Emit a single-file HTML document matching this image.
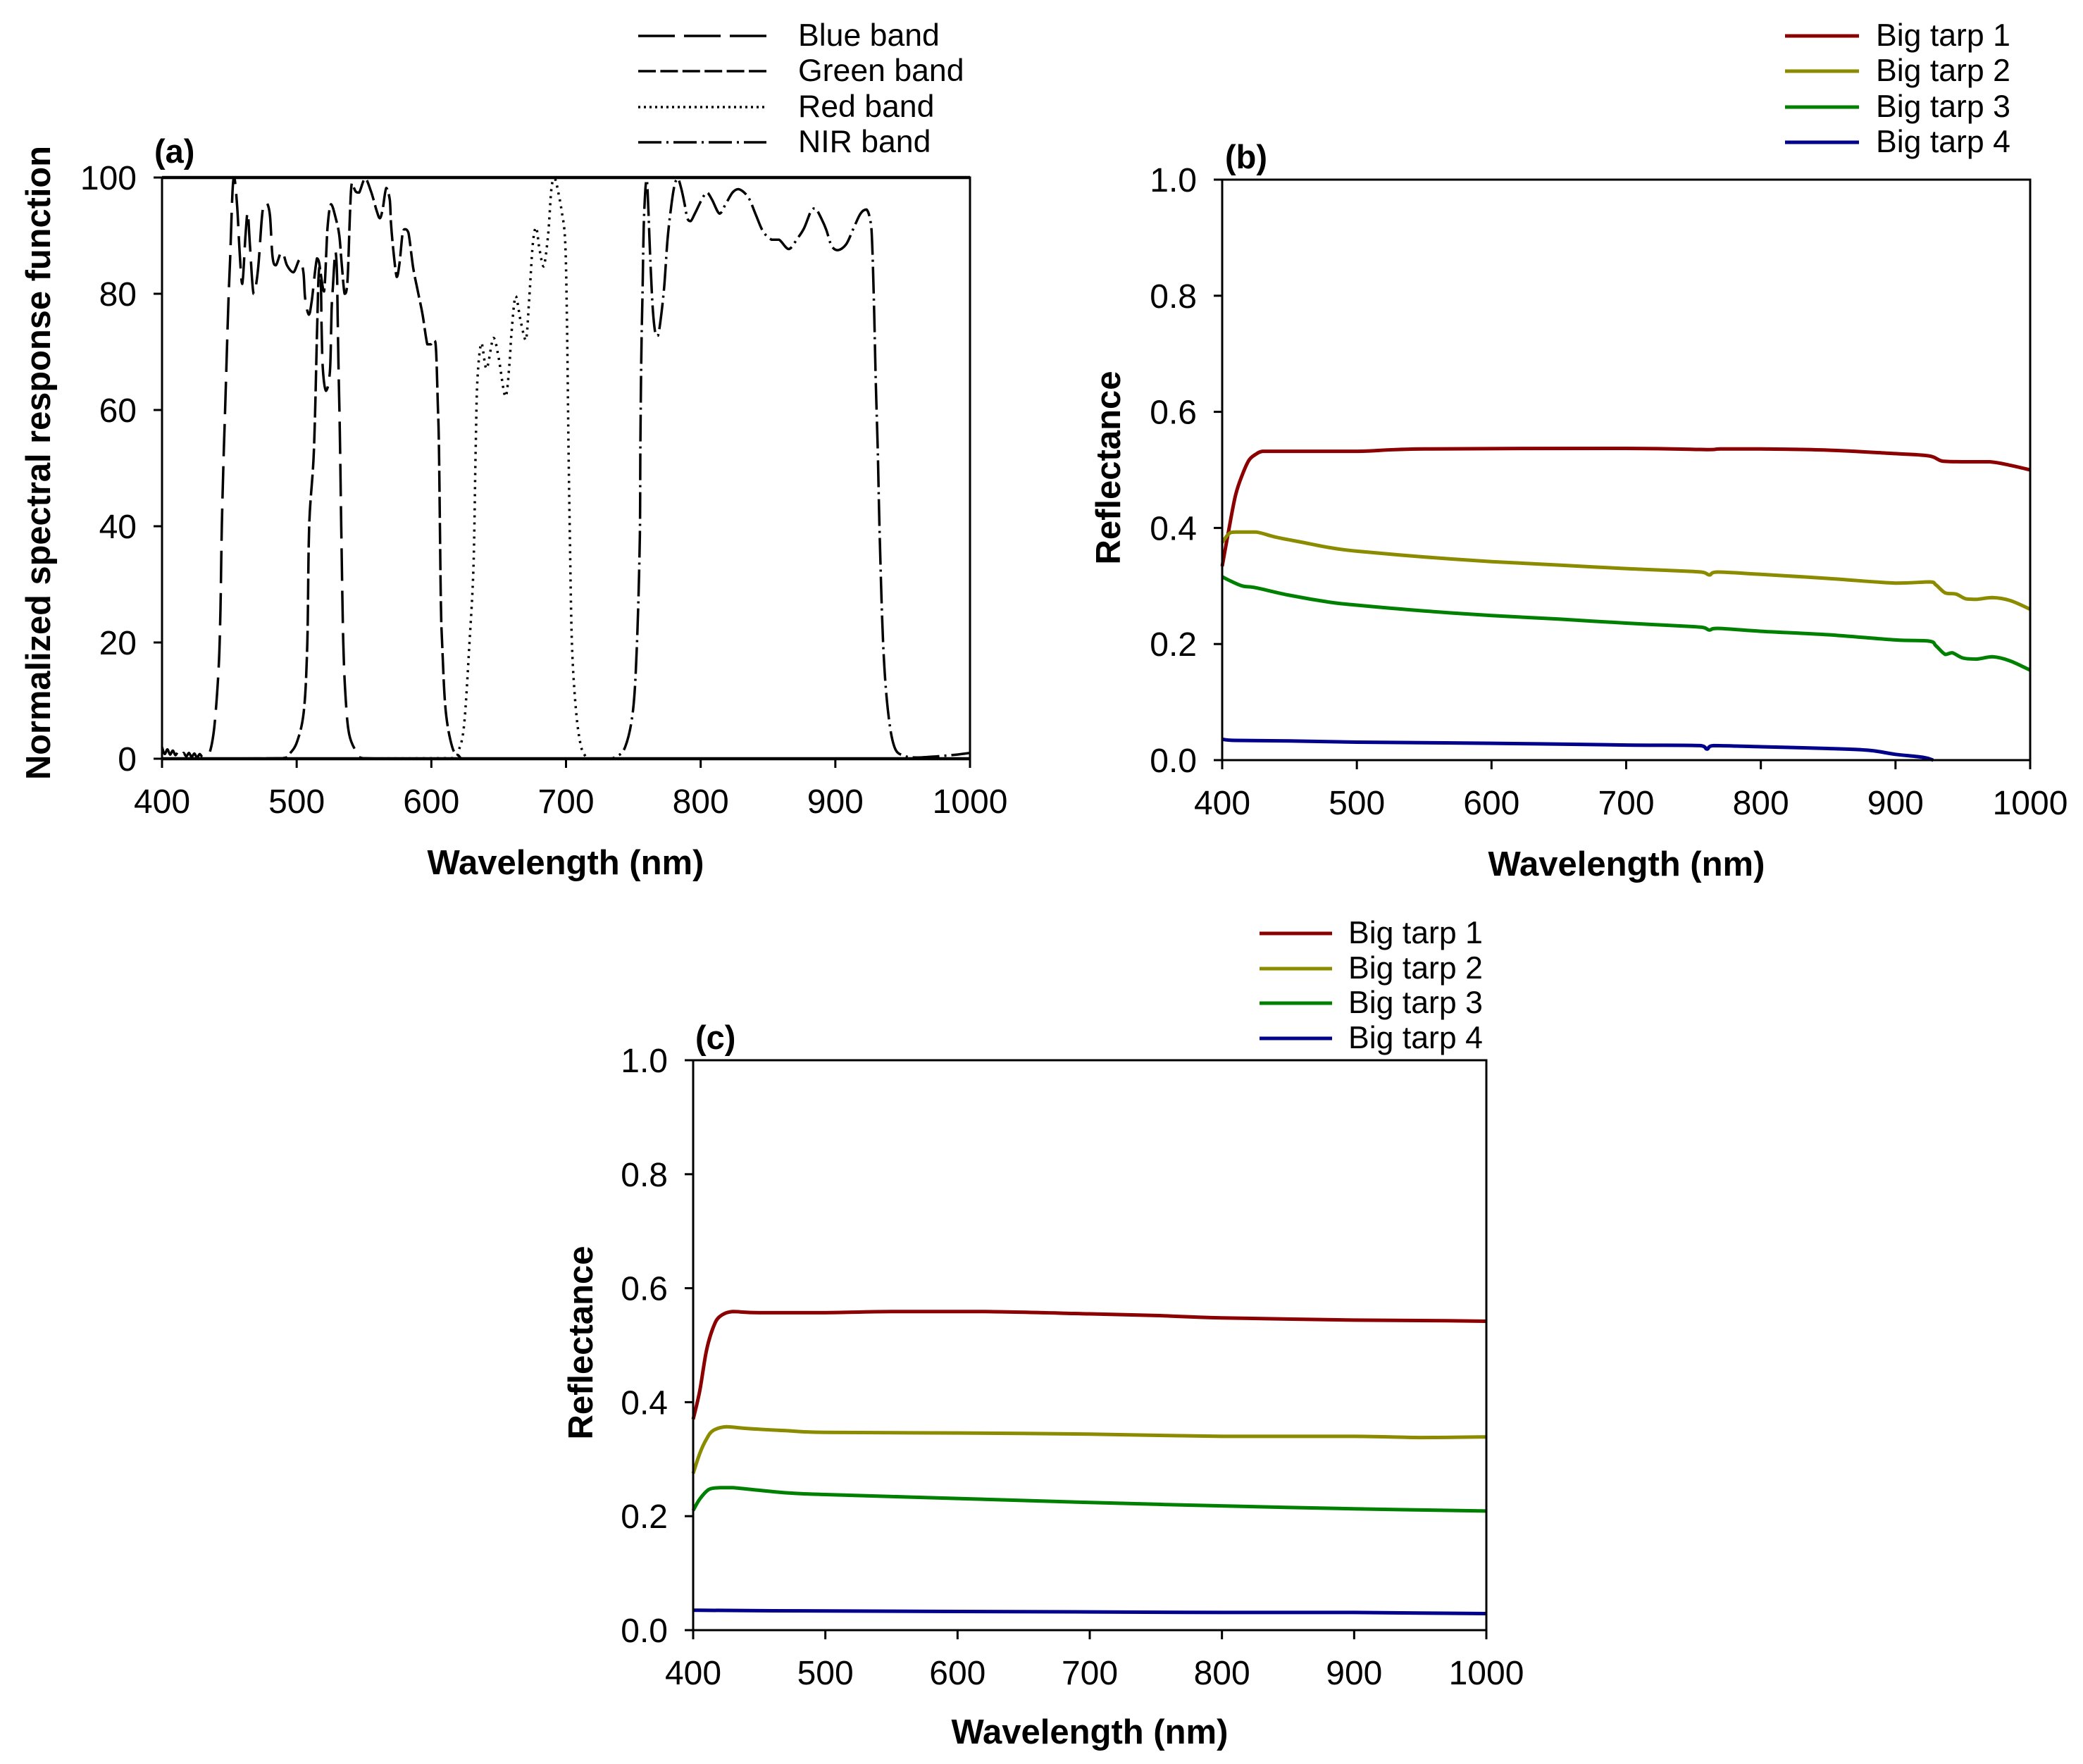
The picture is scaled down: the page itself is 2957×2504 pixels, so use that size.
<!DOCTYPE html>
<html lang="en">
<head>
<meta charset="utf-8">
<title>Spectral response and tarp reflectance</title>
<style>
html,body{margin:0;padding:0;background:#fff}
svg{display:block}
text{font-family:"Liberation Sans",Arial,sans-serif;fill:#000}
</style>
</head>
<body>
<svg id="figure" xmlns="http://www.w3.org/2000/svg" width="2957" height="2504" viewBox="0 0 2957 2504"></svg>
<script>
// ---- Shared tick labels ----
const xTickLabels = [400, 500, 600, 700, 800, 900, 1000];
const yTickLabelsA = [0, 20, 40, 60, 80, 100];
const yTickLabelsR = ["0.0", "0.2", "0.4", "0.6", "0.8", "1.0"];

// ---- Panel (a): spectral response functions ----
const blueWl = [400,402,404,406,408,410,412,414,416,418,420,422,424,426,428,430,432,435.3,438.8,442,443.4,444.4,445.9,447,449.2,450.6,452.3,453.7,455.8,457.5,459.6,461.9,463.6,465.4,468,471.2,474.1,475.8,478,480.2,482,484.5,489,492.8,497.6,502.3,505,506.3,509,511.2,515.1,517.7,518.5,519.4,521.7,524.7,525.9,526.9,528.7,529.9,530.4,531.1,532,533.1,534.6,536.5,539,544,549,600,800,1000];
const blueVal = [2,0.8,1.6,0.7,1.4,0.6,1.2,0.5,1,0.4,1,0.3,0.9,0.2,0.8,0.3,0.6,1,5.4,15.4,25.8,40,53,61,78,86,97.4,100,95,87.8,81.7,89.7,94,88,80,84,93,95.4,95.6,93.4,86.5,84.9,87.3,84.9,83.7,85.9,83.7,79.2,76.4,78.8,86.1,83.3,74.4,67.1,63.3,66.7,77.2,81.2,87.3,83.7,76.4,67.1,57,40,20,10,4.2,1.3,0.1,0,0,0];
const greenWl = [400,489.6,494.5,500.4,505.4,507.9,509.3,512.8,515.1,516.8,520.3,522.9,525.5,529,531.6,533.4,535.6,537.7,539.5,540.9,543.8,546.4,550.8,555.2,559.5,561.8,563.9,566.5,569.1,570,571.7,574.3,576.4,578.7,580.4,583,586.5,590,593.5,597,599.6,602.2,603.5,604.8,605.7,607,608,610.6,615.5,620.4,624.4,800,1000];
const greenVal = [0,0.1,0.8,3,8.4,20,40,53,73.2,84.5,80.4,91.3,95.4,93,90.1,85.3,80,82.1,93.4,99,97.6,97.4,99.8,97.6,94.2,93,94.6,98.2,96.2,92.2,87.7,82.9,85.3,90.5,91.1,90.5,84.5,80.4,76.4,71.3,71.3,72,70.3,61,53,28,20,8.4,2,0.5,0,0,0];
const redWl = [400,615.5,620.4,624.4,628.3,631.3,632.9,634.2,637.2,641,646.1,649.9,655,658,659.5,662.6,666.4,670.2,672.7,675.3,677.8,680.3,683.4,686.7,689.2,691.7,694.3,696.8,699.3,700.6,701.9,702.9,704.4,707.4,710.8,714.3,719.2,1000];
const redVal = [0,0.1,1.5,6,19.8,33.2,53,65.1,71.5,67.1,72.4,69.1,62.3,67.9,73.2,79.6,75.2,72,79.2,88.5,91.4,87.7,84.7,90.1,98.2,99.8,97.4,94.2,89.3,77.2,53,38,19.8,8.4,2.5,0.5,0,0];
const nirWl = [400,729,736.5,743.9,749.8,752.8,754.8,755.2,755.9,756.9,757.7,758.9,760,761,762.7,764.5,766.5,768.3,770.3,772.9,775.4,777.9,780.5,783,785.5,788.1,790.1,792.6,795.7,800.8,804.6,808.4,814,818.5,823.6,827.9,832.4,836.3,841.3,846.4,852.7,858.3,865.4,871.8,876.8,881.9,885.2,889.5,893.3,897.1,901.7,908,913.6,918.7,923.2,926.3,927.5,928.8,930,931.5,933,935.5,939,943.9,951.3,961,975,990,1000];
const nirVal = [0,0,0.3,2,8.4,20.3,38,53,69.1,81.2,91.4,97.8,99.6,95.4,85.3,77.2,73,72.8,75.6,81.2,89.3,94.6,98.6,99.8,98.2,95.4,93,92.5,93.8,96.2,97.4,96.2,93.8,95.4,97.4,98,97.4,96.2,93.4,90.7,89.3,89.3,87.7,89.5,91.3,94.2,94.7,93,91,88.3,87.5,88.5,91.3,93.8,94.5,92.2,87.7,77.2,65.1,53,38,19.8,8.4,2,0.5,0.2,0.4,0.7,1];

// ---- Panel (b): reflectance ----
const b1Wl = [400,405,410,415,420,425,430,440,500,550,700,760,770,800,850,900,925,935,950,970,985,1000];
const b1Val = [0.334,0.398,0.457,0.492,0.517,0.527,0.532,0.532,0.532,0.536,0.537,0.535,0.536,0.536,0.534,0.528,0.524,0.515,0.514,0.514,0.508,0.5];
const b2Wl = [400,405,410,425,440,460,480,500,550,600,650,700,750,758,762,768,800,850,900,925,930,937,945,952,960,972,985,1000];
const b2Val = [0.375,0.39,0.393,0.393,0.384,0.375,0.366,0.36,0.35,0.342,0.336,0.33,0.325,0.323,0.319,0.324,0.32,0.313,0.305,0.307,0.302,0.288,0.286,0.278,0.277,0.28,0.275,0.26];
const b3Wl = [400,405,415,425,450,480,500,550,600,650,700,750,758,762,768,800,850,900,925,930,937,942,950,960,972,985,1000];
const b3Val = [0.316,0.31,0.3,0.297,0.284,0.272,0.267,0.257,0.249,0.243,0.236,0.23,0.228,0.224,0.227,0.222,0.216,0.207,0.205,0.197,0.182,0.185,0.176,0.174,0.178,0.171,0.155];
const b4Wl = [400,410,450,500,600,700,755,760,765,800,850,880,900,920,928];
const b4Val = [0.036,0.034,0.033,0.031,0.029,0.026,0.025,0.019,0.025,0.023,0.02,0.017,0.01,0.005,0];

// ---- Panel (c): reflectance ----
const c1Wl = [400,405,410,415,420,430,450,500,550,620,700,750,800,900,970,1000];
const c1Val = [0.37,0.42,0.49,0.53,0.55,0.559,0.557,0.557,0.559,0.559,0.555,0.552,0.548,0.544,0.543,0.542];
const c2Wl = [400,405,410,415,425,440,470,500,600,700,800,900,950,1000];
const c2Val = [0.275,0.31,0.335,0.35,0.357,0.354,0.35,0.347,0.346,0.344,0.34,0.34,0.338,0.339];
const c3Wl = [400,405,412,420,430,470,500,600,700,800,900,1000];
const c3Val = [0.21,0.23,0.247,0.25,0.25,0.241,0.238,0.231,0.224,0.218,0.213,0.209];
const c4Wl = [400,460,700,800,900,950,1000];
const c4Val = [0.035,0.034,0.032,0.031,0.031,0.03,0.029];

const bandLabels = ["Blue band", "Green band", "Red band", "NIR band"];
const tarpLabels = ["Big tarp 1", "Big tarp 2", "Big tarp 3", "Big tarp 4"];

const NS = "http://www.w3.org/2000/svg";
const svg = document.getElementById("figure");

function make(tag, parent, attrs, txt) {
  const el = document.createElementNS(NS, tag);
  for (const k in attrs) el.setAttribute(k, attrs[k]);
  if (txt !== undefined) el.textContent = txt;
  parent.appendChild(el);
  return el;
}

// Smooth path through points; control points are clamped so curves never overshoot.
function smoothPath(pts) {
  const clamp = (v, a, b) => Math.max(Math.min(a, b), Math.min(Math.max(a, b), v));
  let d = "M" + pts[0][0].toFixed(1) + " " + pts[0][1].toFixed(1);
  for (let i = 0; i < pts.length - 1; i++) {
    const p0 = pts[Math.max(i - 1, 0)], p1 = pts[i], p2 = pts[i + 1], p3 = pts[Math.min(i + 2, pts.length - 1)];
    const c1x = clamp(p1[0] + (p2[0] - p0[0]) / 6, p1[0], p2[0]);
    const c1y = clamp(p1[1] + (p2[1] - p0[1]) / 6, p1[1], p2[1]);
    const c2x = clamp(p2[0] - (p3[0] - p1[0]) / 6, p1[0], p2[0]);
    const c2y = clamp(p2[1] - (p3[1] - p1[1]) / 6, p1[1], p2[1]);
    d += "C" + c1x.toFixed(1) + " " + c1y.toFixed(1) + " " + c2x.toFixed(1) + " " + c2y.toFixed(1) + " " + p2[0].toFixed(1) + " " + p2[1].toFixed(1);
  }
  return d;
}

function drawPanel(p) {
  const g = make("g", svg, {});
  
  
  const sx = v => p.left + (v - 400) / 600 * (p.right - p.left);
  const sy = v => p.bottom - v / p.yMax * (p.bottom - p.top);

  // series
  p.series.forEach(s => {
    const pts = s.wl.map((w, i) => [sx(w), sy(s.val[i])]);
    const line = make("path", g, {d: smoothPath(pts), fill: "none", stroke: s.color, "stroke-width": p.lineWidth, "stroke-linejoin": "round", "stroke-dasharray": s.dash || "none"});
    
    
  });

  // frame
  const frame = make("rect", g, {x: p.left, y: p.top, width: p.right - p.left, height: p.bottom - p.top, fill: "none", stroke: "#000", "stroke-width": 3});
  
  
  if (p.heavyEdges) {
    const topEdge = make("line", g, {x1: p.left, x2: p.right, y1: p.top, y2: p.top, stroke: "#000", "stroke-width": 4.5});
    
    
    const bottomEdge = make("line", g, {x1: p.left, x2: p.right, y1: p.bottom, y2: p.bottom, stroke: "#000", "stroke-width": 4.5});
    
    
  }

  // x ticks
  xTickLabels.forEach(t => {
    const tick = make("line", g, {x1: sx(t), x2: sx(t), y1: p.bottom, y2: p.bottom + 13, stroke: "#000", "stroke-width": 3});
    
    
    const lab = make("text", g, {x: sx(t), y: p.bottom + 77, "font-size": 48, "text-anchor": "middle"}, String(t));
    
    
  });

  // y ticks
  p.yLabels.forEach(t => {
    const v = parseFloat(t);
    const tick = make("line", g, {x1: p.left - 12, x2: p.left, y1: sy(v), y2: sy(v), stroke: "#000", "stroke-width": 3});
    
    
    const lab = make("text", g, {x: p.yLabelX, y: sy(v) + 17, "font-size": 48, "text-anchor": "end"}, String(t));
    
    
  });

  // titles
  const xt = make("text", g, {x: p.xTitleX, y: p.xTitleY, "font-size": 49, "font-weight": "bold", "text-anchor": "middle"}, "Wavelength (nm)");
  
  
  const ytAttrs = {transform: "translate(" + p.yTitleX + "," + p.yTitleY + ") rotate(-90)", "font-size": 49, "font-weight": "bold", "text-anchor": "middle"};
  if (p.yTitleLen) { ytAttrs.textLength = p.yTitleLen; ytAttrs.lengthAdjust = "spacingAndGlyphs"; }
  const yt = make("text", g, ytAttrs, p.yTitle);
  
  

  // panel letter
  const letter = make("text", g, {x: p.letterX, y: p.letterY, "font-size": 47, "font-weight": "bold"}, "(" + p.id + ")");
  
  

  // legend
  const lg = make("g", g, {});
  
  
  p.series.forEach((s, i) => {
    const y = p.legendY[i];
    const key = make("line", lg, {x1: p.legendX1, x2: p.legendX2, y1: y, y2: y, stroke: s.color, "stroke-width": p.lineWidth, "stroke-dasharray": s.legendDash || "none"});
    
    
    const lab = make("text", lg, {x: p.legendTextX, y: y + 14, "font-size": 44.6}, p.labels[i]);
    
    
  });
}

drawPanel({
  id: "a", left: 230, right: 1377, top: 252, bottom: 1077, yMax: 100, yLabels: yTickLabelsA, yLabelX: 194, heavyEdges: true,
  xTitleX: 803, xTitleY: 1241, yTitle: "Normalized spectral response function", yTitleX: 71, yTitleY: 657, yTitleLen: 900,
  letterX: 219, letterY: 231, lineWidth: 3.5, legendX1: 906, legendX2: 1088, legendY: [51, 101, 152, 202], legendTextX: 1133, labels: bandLabels,
  series: [
    {name: "blue-band", wl: blueWl, val: blueVal, color: "#000", dash: "46 14", legendDash: "52 13"},
    {name: "green-band", wl: greenWl, val: greenVal, color: "#000", dash: "30 7", legendDash: "25 6.4"},
    {name: "red-band", wl: redWl, val: redVal, color: "#000", dash: "3 7", legendDash: "3 5"},
    {name: "nir-band", wl: nirWl, val: nirVal, color: "#000", dash: "38 7 3 7", legendDash: "33 7 3 7"}
  ]
});

const tarpColors = ["#8b0000", "#8b8b00", "#008000", "#00008b"];

drawPanel({
  id: "b", left: 1735, right: 2882, top: 255, bottom: 1079, yMax: 1, yLabels: yTickLabelsR, yLabelX: 1699,
  xTitleX: 2309, xTitleY: 1243, yTitle: "Reflectance", yTitleX: 1590, yTitleY: 664,
  letterX: 1739, letterY: 239, lineWidth: 5, legendX1: 2534, legendX2: 2639, legendY: [51, 101, 152, 202], legendTextX: 2663, labels: tarpLabels,
  series: [
    {name: "big-tarp-1", wl: b1Wl, val: b1Val, color: tarpColors[0]},
    {name: "big-tarp-2", wl: b2Wl, val: b2Val, color: tarpColors[1]},
    {name: "big-tarp-3", wl: b3Wl, val: b3Val, color: tarpColors[2]},
    {name: "big-tarp-4", wl: b4Wl, val: b4Val, color: tarpColors[3]}
  ]
});

drawPanel({
  id: "c", left: 984, right: 2110, top: 1505, bottom: 2314, yMax: 1, yLabels: yTickLabelsR, yLabelX: 948,
  xTitleX: 1547, xTitleY: 2475, yTitle: "Reflectance", yTitleX: 841, yTitleY: 1906,
  letterX: 987, letterY: 1489, lineWidth: 5, legendX1: 1788, legendX2: 1891, legendY: [1325, 1375, 1424, 1474], legendTextX: 1914, labels: tarpLabels,
  series: [
    {name: "big-tarp-1", wl: c1Wl, val: c1Val, color: tarpColors[0]},
    {name: "big-tarp-2", wl: c2Wl, val: c2Val, color: tarpColors[1]},
    {name: "big-tarp-3", wl: c3Wl, val: c3Val, color: tarpColors[2]},
    {name: "big-tarp-4", wl: c4Wl, val: c4Val, color: tarpColors[3]}
  ]
});
</script>
</body>
</html>
